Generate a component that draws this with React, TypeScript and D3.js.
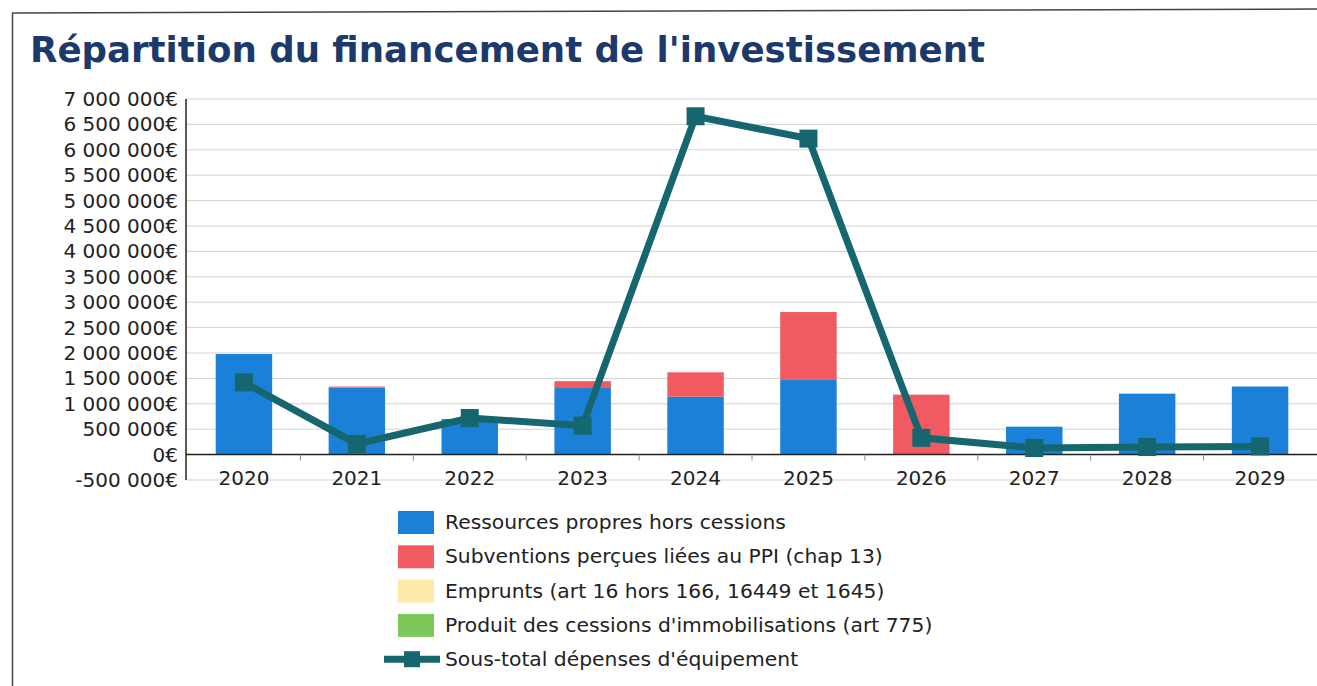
import React from "react";
import * as d3 from "d3";

const years = ["2020","2021","2022","2023","2024","2025","2026","2027","2028","2029"];
const ressourcesPropres = [1980000,1320000,700000,1310000,1140000,1470000,0,550000,1200000,1340000];
const subventions = [0,20000,0,135000,480000,1336000,1180000,0,0,0];
const emprunts = [0,0,0,0,0,0,0,0,0,0];
const cessions = [0,0,0,0,0,0,0,0,0,0];
const sousTotal = [1420000,210000,720000,570000,6660000,6220000,330000,130000,150000,160000];
const yTicks = [-500000,0,500000,1000000,1500000,2000000,2500000,3000000,3500000,4000000,4500000,5000000,5500000,6000000,6500000,7000000];

const seriesNames = [
  "Ressources propres hors cessions",
  "Subventions perçues liées au PPI (chap 13)",
  "Emprunts (art 16 hors 166, 16449 et 1645)",
  "Produit des cessions d'immobilisations (art 775)",
];
const lineName = "Sous-total dépenses d'équipement";
const colors = ["#1b80d8", "#f05a60", "#fdeaa8", "#7cc95a"];
const lineColor = "#16666f";

const fmt = (v: number) => {
  const s = d3.format(",")(v).replace(/,/g, " ").replace("\u2212", "-");
  return s + "€";
};

export default function App() {
  const W = 1317, H = 686;
  const x = d3.scaleBand<string>().domain(years).range([187.5, 1316.5]).padding(0);
  const y = d3.scaleLinear().domain([-500000, 7000000]).range([480, 99]);
  const axisX = 186;
  const font = "DejaVu Sans, Verdana, sans-serif";

  const table = years.map((yr, i) => ({
    year: yr,
    s0: ressourcesPropres[i],
    s1: subventions[i],
    s2: emprunts[i],
    s3: cessions[i],
  }));
  const stack = d3.stack<any>().keys(["s0", "s1", "s2", "s3"]);
  const stacked = stack(table);
  const bw = x.bandwidth() * 0.5;

  const linePts: [number, number][] = years.map((yr, i) => [x(yr)! + x.bandwidth() / 2, y(sousTotal[i])]);
  const linePath = d3.line()(linePts) || "";

  return (
    <svg width={W} height={H} style={{ position: "absolute", left: 0, top: 0, background: "#fff" }} fontFamily={font}>
      <rect x={0} y={0} width={W} height={H} fill="#fff" />
      {/* frame */}
      <line x1={12} y1={13} x2={1317} y2={9} stroke="#444" strokeWidth={1.5} />
      <line x1={12.5} y1={13} x2={12.5} y2={686} stroke="#444" strokeWidth={1.5} />
      <text x={30} y={62} fontSize={35} fontWeight="bold" fill="#1b3a6b" fontFamily={font} textLength={955} lengthAdjust="spacingAndGlyphs">
        Répartition du financement de l'investissement
      </text>
      {/* gridlines */}
      {yTicks.map((t) => (
        <line key={"g" + t} x1={axisX} x2={1317} y1={y(t)} y2={y(t)} stroke="#d2d2d2" strokeWidth={1} />
      ))}
      {/* y labels */}
      {yTicks.map((t) => (
        <text key={"l" + t} x={178} y={y(t) + 7} fontSize={20} textAnchor="end" fill="#222">
          {fmt(t)}
        </text>
      ))}
      {/* bars */}
      {stacked.map((layer, si) =>
        layer.map((d, i) => {
          const h = y(d[0]) - y(d[1]);
          if (h <= 0) return null;
          return (
            <rect
              key={si + "-" + i}
              x={x(years[i])! + (x.bandwidth() - bw) / 2}
              y={y(d[1])}
              width={bw}
              height={h}
              fill={colors[si]}
            />
          );
        })
      )}
      {/* axes */}
      <line x1={axisX} x2={axisX} y1={99} y2={480} stroke="#222" strokeWidth={1.5} />
      <line x1={axisX} x2={1317} y1={y(0)} y2={y(0)} stroke="#222" strokeWidth={1.5} />
      {years.slice(1).map((yr) => (
        <line key={"t" + yr} x1={x(yr)!} x2={x(yr)!} y1={y(0)} y2={y(0) + 6} stroke="#888" strokeWidth={1} />
      ))}
      {years.map((yr) => (
        <text key={"x" + yr} x={x(yr)! + x.bandwidth() / 2} y={485} fontSize={20} textAnchor="middle" fill="#222">
          {yr}
        </text>
      ))}
      {/* line */}
      <path d={linePath} fill="none" stroke={lineColor} strokeWidth={7} strokeLinejoin="miter" />
      {linePts.map(([px, py], i) => (
        <rect key={"m" + i} x={px - 9} y={py - 9} width={18} height={18} fill={lineColor} />
      ))}
      {/* legend */}
      {seriesNames.map((n, i) => (
        <g key={"lg" + i} transform={`translate(0, ${522 + i * 34.3})`}>
          <rect x={398} y={-11} width={36} height={23} fill={colors[i]} />
          <text x={445} y={7} fontSize={20.3} fill="#222">{n}</text>
        </g>
      ))}
      <g transform={`translate(0, ${522 + 4 * 34.3})`}>
        <line x1={384} x2={440} y1={0} y2={0} stroke={lineColor} strokeWidth={7} />
        <rect x={404} y={-8} width={16} height={16} fill={lineColor} />
        <text x={445} y={7} fontSize={20.3} fill="#222">{lineName}</text>
      </g>
    </svg>
  );
}
